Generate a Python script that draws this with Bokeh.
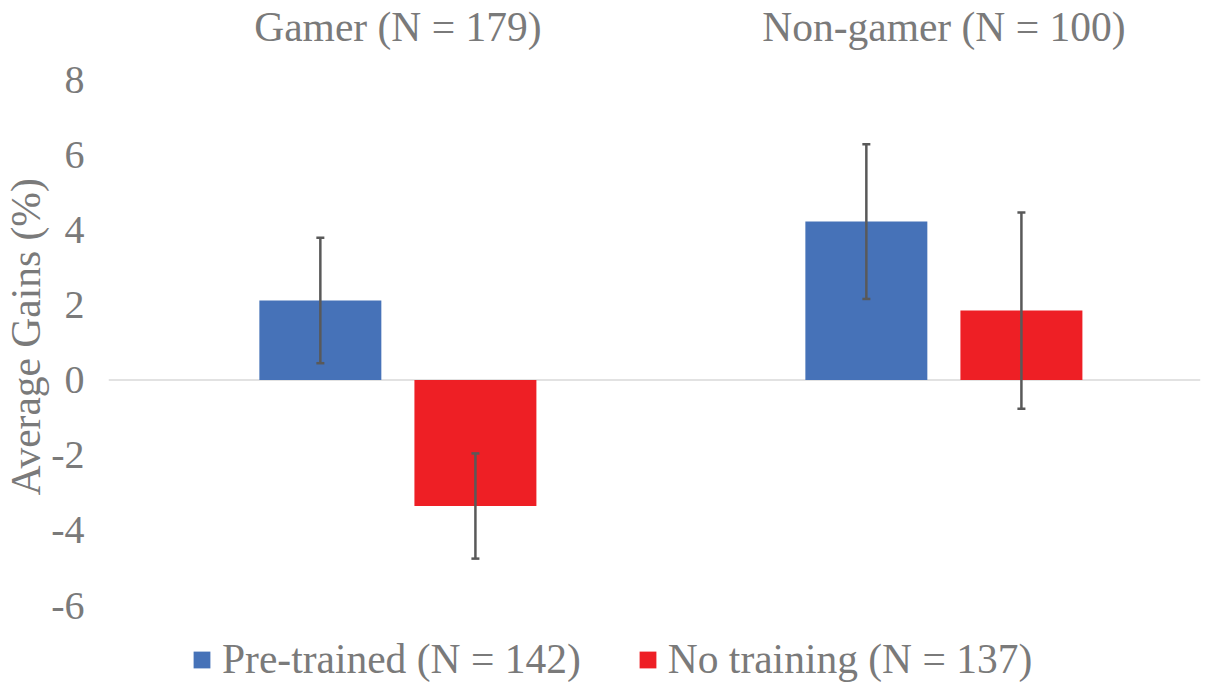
from bokeh.plotting import figure
from bokeh.models import (ColumnDataSource, Range1d, FixedTicker, Whisker, TeeHead,
                          Legend, LegendItem, LinearAxis, Span, Title)
from bokeh.transform import dodge
from bokeh.embed import file_html
from bokeh.resources import INLINE

# ---- data ----
categories = ["Gamer (N = 179)", "Non-gamer (N = 100)"]
series_names = ["Pre-trained (N = 142)", "No training (N = 137)"]
pretrained = [2.12, 4.22]
pretrained_err = [1.67, 2.06]
notraining = [-3.35, 1.85]
notraining_err = [1.40, 2.61]
y_ticks = [-6, -4, -2, 0, 2, 4, 6, 8]
y_tick_labels = ["-6", "-4", "-2", "0", "2", "4", "6", "8"]
y_title = "Average Gains (%)"

FONT = "Liberation Serif"
TXT = "#7a7a7a"
BLUE = "#4672b8"
RED = "#ee1f25"
ERR = "#595959"

xs = list(range(len(categories)))
src = ColumnDataSource(dict(
    x=xs,
    pre=pretrained,
    pre_lo=[v - e for v, e in zip(pretrained, pretrained_err)],
    pre_hi=[v + e for v, e in zip(pretrained, pretrained_err)],
    no=notraining,
    no_lo=[v - e for v, e in zip(notraining, notraining_err)],
    no_hi=[v + e for v, e in zip(notraining, notraining_err)],
))

H = 683
TOP = 78
PX_PER_UNIT = 37.64
y_start = 8 - (H - TOP) / PX_PER_UNIT   # frame reaches the bottom; legend sits inside it

p = figure(width=1213, height=H, output_backend="svg", toolbar_location=None,
           x_range=Range1d(-0.530, 1.470), y_range=Range1d(y_start, 8),
           x_axis_location=None, min_border_left=108, min_border_right=13,
           min_border_top=TOP, min_border_bottom=0)
p.outline_line_color = None
p.grid.visible = False
p.background_fill_color = "white"
p.border_fill_color = "white"

p.add_layout(Span(location=0, dimension="width", line_color="#d9d9d9",
                  line_width=1.5, level="underlay"))

OFF = 0.142
W = 0.2234
r1 = p.vbar(x=dodge("x", -OFF, range=p.x_range), top="pre", bottom=0, width=W,
            source=src, fill_color=BLUE, line_color=None)
r2 = p.vbar(x=dodge("x", OFF, range=p.x_range), top="no", bottom=0, width=W,
            source=src, fill_color=RED, line_color=None)

for lo, hi, off in (("pre_lo", "pre_hi", -OFF), ("no_lo", "no_hi", OFF)):
    w = Whisker(base=dodge("x", off, range=p.x_range), lower=lo, upper=hi, source=src,
                line_color=ERR, line_width=2.5, level="overlay",
                upper_head=TeeHead(size=8, line_color=ERR, line_width=2.5),
                lower_head=TeeHead(size=8, line_color=ERR, line_width=2.5))
    p.add_layout(w)

# y axis
yax = p.yaxis[0]
yax.ticker = FixedTicker(ticks=y_ticks)
yax.major_label_overrides = {t: l for t, l in zip(y_ticks, y_tick_labels)}
yax.axis_line_color = None
yax.major_tick_line_color = None
yax.minor_tick_line_color = None
yax.major_label_text_font = FONT
yax.major_label_text_font_size = "40px"
yax.major_label_text_color = TXT
yax.major_label_standoff = 18

# y title, placed on the -6..8 span (the frame extends lower to hold the legend)
p.add_layout(Title(text=y_title, align="left", offset=188, standoff=0,
                   text_font=FONT, text_font_size="41.5px", text_font_style="normal",
                   text_color=TXT), "left")

# category axis on top
top = LinearAxis(ticker=FixedTicker(ticks=xs),
                 major_label_overrides={i: c for i, c in zip(xs, categories)})
top.axis_line_color = None
top.major_tick_line_color = None
top.minor_tick_line_color = None
top.major_label_text_font = FONT
top.major_label_text_font_size = "41.5px"
top.major_label_text_color = TXT
top.major_label_standoff = 24
p.add_layout(top, "above")

legend = Legend(items=[LegendItem(label=series_names[0], renderers=[r1]),
                       LegendItem(label=series_names[1], renderers=[r2])],
                orientation="horizontal", location=(83, 0),
                label_text_font=FONT, label_text_font_size="41.5px",
                label_text_color=TXT, glyph_width=21, glyph_height=21,
                label_standoff=10, spacing=56, border_line_color=None,
                background_fill_alpha=0, padding=0, margin=0)
p.add_layout(legend, "center")

open("out.html", "w").write(file_html(p, INLINE))
